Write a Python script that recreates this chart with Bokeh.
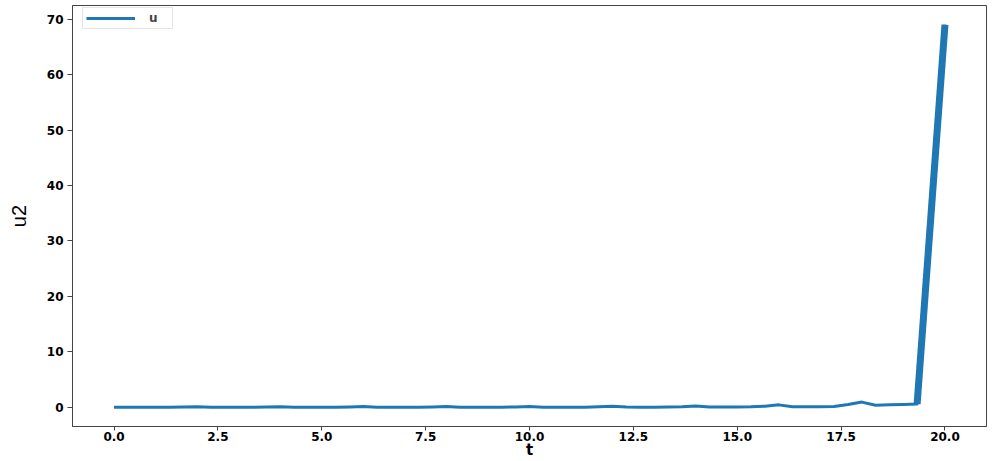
from bokeh.plotting import figure
from bokeh.models import Range1d, FixedTicker, Legend, LegendItem, CustomJSTickFormatter
from bokeh.embed import file_html
from bokeh.resources import INLINE

# ---- data ----
t = [0.0, 0.33, 0.67, 1.0, 1.33, 1.67, 2.0, 2.33, 2.67, 3.0,
     3.33, 3.67, 4.0, 4.33, 4.67, 5.0, 5.33, 5.67, 6.0, 6.33,
     6.67, 7.0, 7.33, 7.67, 8.0, 8.33, 8.67, 9.0, 9.33, 9.67,
     10.0, 10.33, 10.67, 11.0, 11.33, 11.67, 12.0, 12.33, 12.67, 13.0,
     13.33, 13.67, 14.0, 14.33, 14.67, 15.0, 15.33, 15.67, 16.0, 16.33,
     16.67, 17.0, 17.33, 17.67, 18.0, 18.33, 18.67, 19.0, 19.33, 20.0]
u = [0.0, 0.0, 0.0, 0.0, 0.01, 0.05, 0.12, 0.02, 0.01, 0.01,
     0.02, 0.06, 0.13, 0.02, 0.01, 0.01, 0.02, 0.06, 0.14, 0.03,
     0.02, 0.02, 0.03, 0.07, 0.15, 0.03, 0.02, 0.02, 0.03, 0.08,
     0.17, 0.04, 0.03, 0.03, 0.04, 0.10, 0.20, 0.05, 0.04, 0.04,
     0.06, 0.13, 0.26, 0.07, 0.06, 0.06, 0.09, 0.22, 0.45, 0.12,
     0.10, 0.10, 0.15, 0.50, 0.95, 0.38, 0.45, 0.52, 0.60, 69.0]
x_ticks = [0.0, 2.5, 5.0, 7.5, 10.0, 12.5, 15.0, 17.5, 20.0]
y_ticks = [0, 10, 20, 30, 40, 50, 60, 70]
series_label = "u"
x_label = "t"
y_label = "u2"

# ---- figure ----
xpad = (max(t) - min(t)) * 0.05
ypad = (max(u) - min(u)) * 0.05
p = figure(width=1000, height=461, output_backend="svg", toolbar_location=None,
           x_range=Range1d(min(t) - xpad, max(t) + xpad),
           y_range=Range1d(min(u) - ypad, max(u) + ypad),
           min_border_left=72, min_border_right=14, min_border_top=5, min_border_bottom=33)

blue = "#1f77b4"
r = p.line(t, u, line_color=blue, line_width=3, line_join="round")
# the steep final segment appears heavier in the reference
p.line(t[-2:], u[-2:], line_color=blue, line_width=7, line_join="round")

p.xgrid.visible = False
p.ygrid.visible = False
p.outline_line_color = "#444444"
p.outline_line_width = 1
p.background_fill_color = "white"
p.border_fill_color = "white"

for ax in (p.xaxis[0], p.yaxis[0]):
    ax.axis_line_color = "#444444"
    ax.major_tick_line_color = "#444444"
    ax.major_tick_in = 0
    ax.minor_tick_line_color = None
    ax.major_label_text_font = "DejaVu Sans"
    ax.major_label_text_font_style = "bold"
    ax.major_label_text_font_size = "12px"
    ax.major_label_text_color = "black"

p.xaxis[0].ticker = FixedTicker(ticks=x_ticks)
p.xaxis[0].formatter = CustomJSTickFormatter(code="return tick.toFixed(1);")
p.xaxis[0].major_tick_out = 4
p.xaxis[0].major_label_standoff = 1
p.xaxis[0].axis_label = x_label
p.xaxis[0].axis_label_text_font = "DejaVu Sans"
p.xaxis[0].axis_label_text_font_style = "bold"
p.xaxis[0].axis_label_text_font_size = "15px"
p.xaxis[0].axis_label_standoff = -3
p.xaxis[0].axis_label_text_color = "black"

p.yaxis[0].ticker = FixedTicker(ticks=y_ticks)
p.yaxis[0].formatter = CustomJSTickFormatter(code="return tick.toFixed(0);")
p.yaxis[0].major_tick_out = 5
p.yaxis[0].major_label_standoff = 4
p.yaxis[0].axis_label = y_label
p.yaxis[0].axis_label_text_font = "Liberation Sans"
p.yaxis[0].axis_label_text_font_style = "normal"
p.yaxis[0].axis_label_text_font_size = "20px"
p.yaxis[0].axis_label_standoff = 14
p.yaxis[0].axis_label_text_color = "black"

legend = Legend(items=[LegendItem(label=series_label, renderers=[r])],
                location=(10, 397), margin=0, padding=3, spacing=0,
                glyph_width=49, glyph_height=10, label_height=10, label_width=20,
                label_standoff=14, label_text_font="DejaVu Sans",
                label_text_font_style="bold", label_text_font_size="12px",
                border_line_color="#cccccc", border_line_width=1,
                background_fill_color="white", background_fill_alpha=0.8)
p.add_layout(legend, "center")

open("out.html", "w").write(file_html(p, INLINE))
